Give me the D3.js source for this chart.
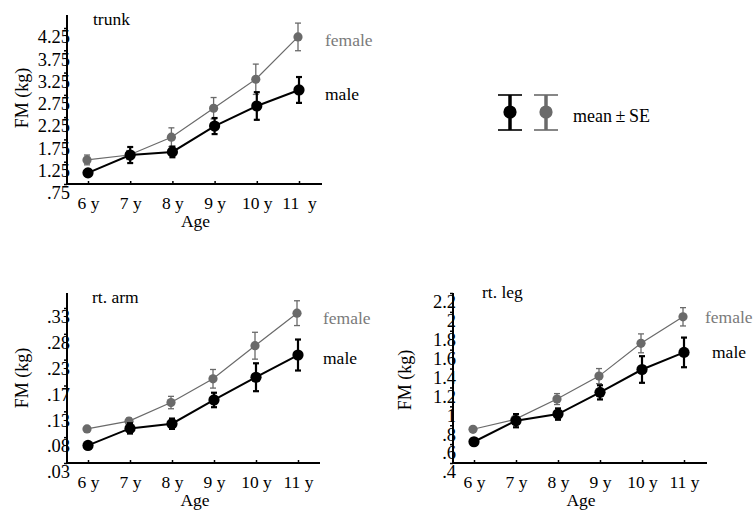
<!DOCTYPE html>
<html lang="en">
<head>
<meta charset="utf-8">
<title>FM by age</title>
<style>
  body { margin: 0; background: #fff; }
  svg, svg text { font-family: "Liberation Serif", "Times New Roman", Times, "DejaVu Serif", serif; }
  .tick text { font-size: 17.5px; fill: #000; }
  .yax .tick text { font-size: 18.5px; }
</style>
</head>
<body>
<div id="chart"></div>
<script src="https://d3js.org/d3.v7.min.js"></script>
<script>
// ---- data ----
var ages = ["6 y", "7 y", "8 y", "9 y", "10 y", "11 y"];
var trunkAgeLabels = ["6 y", "7 y", "8 y", "9 y", "10 y", "11  y"];

var trunkMale     = [1.00, 1.40, 1.47, 2.05, 2.50, 2.86];
var trunkMaleSE   = [0.07, 0.18, 0.12, 0.18, 0.31, 0.29];
var trunkFemale   = [1.29, 1.40, 1.80, 2.45, 3.10, 4.05];
var trunkFemaleSE = [0.11, 0.10, 0.21, 0.24, 0.34, 0.31];
var trunkTicks    = [0.75, 1.25, 1.75, 2.25, 2.75, 3.25, 3.75, 4.25];
var trunkTickText = [".75", "1.25", "1.75", "2.25", "2.75", "3.25", "3.75", "4.25"];

var armMale     = [0.064, 0.097, 0.106, 0.152, 0.196, 0.239];
var armMaleSE   = [0.003, 0.010, 0.010, 0.014, 0.027, 0.030];
var armFemale   = [0.096, 0.111, 0.147, 0.193, 0.257, 0.320];
var armFemaleSE = [0.003, 0.006, 0.012, 0.018, 0.026, 0.024];
var armTicks    = [0.03, 0.08, 0.13, 0.18, 0.23, 0.28, 0.33];
var armTickText = [".03", ".08", ".13", ".17", ".23", ".28", ".33"];

var legMale     = [0.625, 0.848, 0.918, 1.148, 1.39, 1.571];
var legMaleSE   = [0.02, 0.07, 0.06, 0.075, 0.141, 0.157];
var legFemale   = [0.757, 0.862, 1.077, 1.32, 1.667, 1.948];
var legFemaleSE = [0.01, 0.02, 0.058, 0.08, 0.10, 0.097];
var legTicks    = [0.4, 0.6, 0.8, 1.0, 1.2, 1.4, 1.6, 1.8, 2.0, 2.2];
var legTickText = [".4", ".6", ".8", "1", "1.2", "1.4", "1.6", "1.8", "2", "2.2"];

var maleColor = "#000", femaleColor = "#6a6a6a", femaleText = "#7a7a7a";
var serif = "'Liberation Serif', 'Times New Roman', Times, 'DejaVu Serif', serif";

var svg = d3.select("#chart").append("svg")
    .attr("width", 755)
    .attr("height", 511)
    .attr("font-family", serif);

// one panel = axes + two series with SE bars
function drawPanel(p) {
  var g = svg.append("g");

  var x = d3.scalePoint().domain(ages).range(p.xRange);
  var y = d3.scaleLinear().domain([p.ticks[0], p.ticks[p.ticks.length - 1]]).range(p.yRange);

  // axis lines
  g.append("line")
      .attr("x1", p.axisX).attr("x2", p.axisX)
      .attr("y1", p.axisTop).attr("y2", p.axisY + 1)
      .attr("stroke", "#000").attr("stroke-width", 2);
  g.append("line")
      .attr("x1", p.axisX - 1).attr("x2", p.axisRight)
      .attr("y1", p.axisY).attr("y2", p.axisY)
      .attr("stroke", "#000").attr("stroke-width", 2);

  // y ticks (labels hang below the tick)
  var yAxis = g.append("g")
      .attr("class", "yax")
      .attr("transform", "translate(" + p.axisX + ",0)")
      .call(d3.axisLeft(y).tickValues(p.ticks)
        .tickFormat(function(d, i) { return p.tickText[i]; })
        .tickSize(3).tickPadding(-6));
  yAxis.attr("font-family", serif).attr("font-size", null);
  yAxis.select(".domain").remove();
  yAxis.selectAll("text").attr("dy", "0.8em");
  yAxis.selectAll(".tick line").attr("stroke-width", 1.5);

  // x ticks (tick marks point up)
  var xAxis = g.append("g")
      .attr("transform", "translate(0," + p.axisY + ")")
      .call(d3.axisBottom(x)
        .tickFormat(function(d, i) { return p.ageLabels[i]; })
        .tickSizeInner(-3).tickSizeOuter(0).tickPadding(13));
  xAxis.attr("font-family", serif).attr("font-size", null);
  xAxis.select(".domain").remove();
  xAxis.selectAll("text").style("white-space", "pre");
  xAxis.selectAll(".tick line").attr("stroke-width", 1.5);

  // axis titles
  g.append("text")
      .attr("x", d3.mean(p.xRange) + 2).attr("y", p.axisY + 43)
      .attr("text-anchor", "middle").attr("font-size", 17.5)
      .text("Age");
  g.append("text")
      .attr("transform", "translate(" + p.titleX + "," + p.titleY + ") rotate(-90)")
      .attr("text-anchor", "middle").attr("font-size", 18)
      .text("FM (kg)");
  g.append("text")
      .attr("x", p.nameX).attr("y", p.nameY)
      .attr("font-size", 17.5)
      .text(p.name);

  var series = [
    {vals: p.female, se: p.femaleSE, color: femaleColor, lw: 1.2, ew: 1.3, r: 4.6, dx: -1},
    {vals: p.male, se: p.maleSE, color: maleColor, lw: 2, ew: 2.2, r: 5.6, dx: 0}
  ];

  series.forEach(function(s) {
    var pts = ages.map(function(a, i) { return {a: a, v: s.vals[i], e: s.se[i]}; });

    g.append("path")
        .datum(pts)
        .attr("fill", "none")
        .attr("stroke", s.color)
        .attr("stroke-width", s.lw)
        .attr("d", d3.line()
          .x(function(d) { return x(d.a) + s.dx; })
          .y(function(d) { return y(d.v); }));

    var eb = g.append("g").selectAll("g").data(pts).enter().append("g")
        .attr("stroke", s.color).attr("stroke-width", s.ew);
    eb.append("line")
        .attr("x1", function(d) { return x(d.a) + s.dx; })
        .attr("x2", function(d) { return x(d.a) + s.dx; })
        .attr("y1", function(d) { return y(d.v - d.e); })
        .attr("y2", function(d) { return y(d.v + d.e); });
    [-1, 1].forEach(function(sign) {
      eb.append("line")
          .attr("x1", function(d) { return x(d.a) + s.dx - 3; })
          .attr("x2", function(d) { return x(d.a) + s.dx + 3; })
          .attr("y1", function(d) { return y(d.v + sign * d.e); })
          .attr("y2", function(d) { return y(d.v + sign * d.e); });
    });

    g.append("g").selectAll("circle").data(pts).enter().append("circle")
        .attr("cx", function(d) { return x(d.a) + s.dx; })
        .attr("cy", function(d) { return y(d.v); })
        .attr("r", s.r)
        .attr("fill", s.color);
  });

  // series labels
  g.append("text")
      .attr("x", p.femaleLab[0]).attr("y", p.femaleLab[1])
      .attr("dy", "0.32em").attr("font-size", 17.5).attr("fill", femaleText)
      .text("female");
  g.append("text")
      .attr("x", p.maleLab[0]).attr("y", p.maleLab[1])
      .attr("dy", "0.32em").attr("font-size", 17.5).attr("fill", "#000")
      .text("male");
}

drawPanel({
  name: "trunk", nameX: 93, nameY: 25,
  axisX: 67, axisY: 184, axisTop: 15, axisRight: 322,
  xRange: [88, 299], yRange: [184, 28],
  ticks: trunkTicks, tickText: trunkTickText, ageLabels: trunkAgeLabels,
  male: trunkMale, maleSE: trunkMaleSE, female: trunkFemale, femaleSE: trunkFemaleSE,
  titleX: 28, titleY: 98,
  femaleLab: [325, 40], maleLab: [325, 94]
});

drawPanel({
  name: "rt. arm", nameX: 92, nameY: 303,
  axisX: 67, axisY: 463, axisTop: 293, axisRight: 320,
  xRange: [88, 298], yRange: [463, 308],
  ticks: armTicks, tickText: armTickText, ageLabels: ages,
  male: armMale, maleSE: armMaleSE, female: armFemale, femaleSE: armFemaleSE,
  titleX: 28, titleY: 378,
  femaleLab: [323, 318], maleLab: [323, 358]
});

drawPanel({
  name: "rt. leg", nameX: 482, nameY: 298,
  axisX: 453, axisY: 463, axisTop: 293, axisRight: 707,
  xRange: [474, 684], yRange: [463, 293],
  ticks: legTicks, tickText: legTickText, ageLabels: ages,
  male: legMale, maleSE: legMaleSE, female: legFemale, femaleSE: legFemaleSE,
  titleX: 411, titleY: 380,
  femaleLab: [705, 317], maleLab: [712, 352]
});

// mean ± SE key
var key = svg.append("g");
[{cx: 510, color: maleColor}, {cx: 546, color: femaleColor}].forEach(function(k) {
  key.append("line")
      .attr("x1", k.cx).attr("x2", k.cx).attr("y1", 95).attr("y2", 130)
      .attr("stroke", k.color).attr("stroke-width", 3.5);
  [95, 130].forEach(function(yy) {
    key.append("line")
        .attr("x1", k.cx - 12).attr("x2", k.cx + 12).attr("y1", yy).attr("y2", yy)
        .attr("stroke", k.color).attr("stroke-width", 1.6);
  });
  key.append("circle").attr("cx", k.cx).attr("cy", 112).attr("r", 6.6).attr("fill", k.color);
});
key.append("text")
    .attr("x", 573).attr("y", 116).attr("dy", "0.32em")
    .attr("font-size", 18)
    .text("mean\u2009\u00B1\u2009SE");
</script>
</body>
</html>
